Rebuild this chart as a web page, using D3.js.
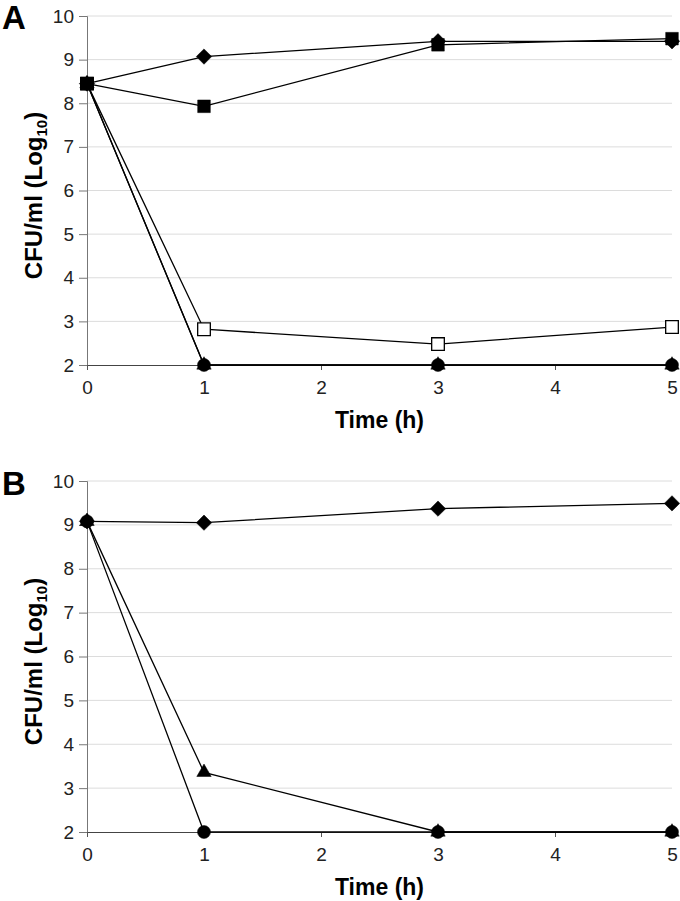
<!DOCTYPE html>
<html><head><meta charset="utf-8">
<script src="https://cdn.jsdelivr.net/npm/d3@7"></script>
<style>body{margin:0;background:#fff}svg{display:block}text{font-family:"Liberation Sans",Arial,sans-serif}</style>
</head><body>
<svg id="c" width="680" height="901"></svg>
<script>
const times = [0, 1, 3, 5];
const xTicks = [0, 1, 2, 3, 4, 5];
const yTicks = [2, 3, 4, 5, 6, 7, 8, 9, 10];
// Panel A
const diamondA    = [8.45, 9.07, 9.42, 9.42];
const squareA     = [8.45, 7.93, 9.34, 9.48];
const openSquareA = [8.45, 2.82, 2.48, 2.87];
const circleA     = [8.45, 2.0, 2.0, 2.0];
const triangleA   = [8.45, 2.0, 2.0, 2.0];
// Panel B
const diamondB  = [9.08, 9.05, 9.37, 9.49];
const triangleB = [9.08, 3.36, 2.0, 2.0];
const circleB   = [9.08, 2.0, 2.0, 2.0];

const svg = d3.select("#c");
const x = d3.scaleLinear().domain([0, 5]).range([87, 672]);

const shapes = {
  diamond: {type: d3.symbolSquare, size: 118, rot: 45, fill: "#000"},
  square: {type: d3.symbolSquare, size: 160, rot: 0, fill: "#000"},
  open: {type: d3.symbolSquare, size: 160, rot: 0, fill: "#fff"},
  circle: {type: d3.symbolCircle, size: 132, rot: 0, fill: "#000"},
  triangle: {type: d3.symbolTriangle, size: 90, rot: 0, fill: "#000"}
};

function panel(letter, top, bottom, series, titleY, labelBase) {
  const y = d3.scaleLinear().domain([2, 10]).range([bottom, top]);
  const g = svg.append("g");
  g.selectAll("line.grid").data(yTicks.filter(d => d > 2)).join("line")
    .attr("x1", x(0)).attr("x2", x(5)).attr("y1", d => y(d)).attr("y2", d => y(d))
    .attr("stroke", "#dcdcdc").attr("stroke-width", 1);
  const ya = g.append("g").attr("transform", `translate(${x(0)},0)`)
    .call(d3.axisLeft(y).tickValues(yTicks).tickFormat(d3.format("d")).tickSize(8).tickPadding(5));
  ya.attr("font-size", 19).attr("font-family", '"Liberation Sans",Arial,sans-serif');
  ya.select(".domain").attr("stroke", "#777");
  ya.selectAll(".tick line").attr("stroke", "#777");
  ya.selectAll("text").attr("fill", "#222");
  const xa = g.append("g").attr("transform", `translate(0,${y(2)})`)
    .call(d3.axisBottom(x).tickValues(xTicks).tickFormat(d3.format("d")).tickSize(5).tickPadding(11));
  xa.attr("font-size", 19).attr("font-family", '"Liberation Sans",Arial,sans-serif');
  xa.select(".domain").attr("stroke", "#444");
  xa.selectAll(".tick line").attr("stroke", "#555");
  xa.selectAll("text").attr("fill", "#222");
  const line = d3.line().x((d, i) => x(times[i])).y(d => y(d));
  series.forEach(s => {
    g.append("path").attr("d", line(s.values)).attr("fill", "none")
      .attr("stroke", "#000").attr("stroke-width", 1.3);
  });
  series.forEach(s => {
    const sh = shapes[s.shape];
    const sym = d3.symbol().type(sh.type).size(sh.size);
    g.selectAll(null).data(s.values).join("path")
      .attr("d", sym)
      .attr("transform", (d, i) => `translate(${x(times[i])},${y(d)}) rotate(${sh.rot})`)
      .attr("fill", sh.fill).attr("stroke", "#000").attr("stroke-width", s.shape === "open" ? 1.3 : 0.5);
  });
  g.append("text").attr("x", (x(0) + x(5)) / 2).attr("y", titleY)
    .attr("text-anchor", "middle").attr("font-size", 23).attr("font-weight", "bold").text("Time (h)");
  const yt = g.append("text")
    .attr("transform", `translate(42,${(top + bottom) / 2 + 5}) rotate(-90)`)
    .attr("text-anchor", "middle").attr("font-size", 24).attr("font-weight", "bold");
  yt.append("tspan").text("CFU/ml (Log");
  yt.append("tspan").attr("font-size", 15).attr("dy", 5).text("10");
  yt.append("tspan").attr("dy", -5).text(")");
  g.append("text").attr("x", 2).attr("y", labelBase).attr("font-size", 33)
    .attr("font-weight", "bold").text(letter);
}

panel("A", 16, 365, [
  {values: openSquareA, shape: "open"},
  {values: triangleA, shape: "triangle"},
  {values: circleA, shape: "circle"},
  {values: diamondA, shape: "diamond"},
  {values: squareA, shape: "square"}
], 428, 29);

panel("B", 481, 832, [
  {values: diamondB, shape: "diamond"},
  {values: triangleB, shape: "triangle"},
  {values: circleB, shape: "circle"}
], 895, 495);
</script>
</body></html>
